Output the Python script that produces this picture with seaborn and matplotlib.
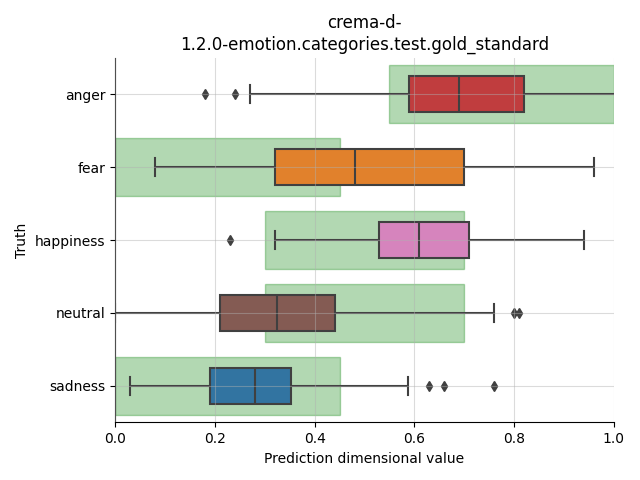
import pandas as pd
import matplotlib
matplotlib.use("Agg")
import matplotlib.pyplot as plt
import seaborn as sns
from matplotlib.patches import Rectangle

# =========================
# Data
# =========================
CATEGORIES = ["anger", "fear", "happiness", "neutral", "sadness"]
PALETTE = ["tab:red", "tab:orange", "tab:pink", "tab:brown", "tab:blue"]

anger = [0.18, 0.24, 0.27, 0.59, 0.62, 0.66, 0.69, 0.73, 0.78, 0.82, 0.88, 0.94, 1.03]
fear = [0.08, 0.18, 0.26, 0.32, 0.38, 0.43, 0.48, 0.55, 0.63, 0.70, 0.79, 0.88, 0.96]
happiness = [0.23, 0.32, 0.45, 0.53, 0.56, 0.59, 0.61, 0.64, 0.67, 0.71, 0.78, 0.86, 0.94]
neutral = [0.00, 0.10, 0.16, 0.21, 0.25, 0.29, 0.325, 0.36, 0.40, 0.44, 0.76, 0.80, 0.81]
sadness = [0.03, 0.08, 0.12, 0.16, 0.19, 0.21, 0.24, 0.26, 0.28, 0.30, 0.32, 0.34,
           0.352, 0.588, 0.63, 0.66, 0.76]

# expected ranges per category (green bands)
range_lo = [0.55, 0.00, 0.30, 0.30, 0.00]
range_hi = [1.00, 0.45, 0.70, 0.70, 0.45]

# =========================
# Build long-form table
# =========================
values = {"anger": anger, "fear": fear, "happiness": happiness,
          "neutral": neutral, "sadness": sadness}
df = pd.DataFrame(
    [(cat, v) for cat in CATEGORIES for v in values[cat]],
    columns=["Truth", "Prediction dimensional value"],
)

# =========================
# Plot
# =========================
fig, ax = plt.subplots(figsize=(6.4, 4.8), dpi=100)

for i, (lo, hi) in enumerate(zip(range_lo, range_hi)):
    ax.add_patch(Rectangle((lo, i - 0.4), hi - lo, 0.8,
                           color="green", alpha=0.3, zorder=1))

sns.boxplot(
    data=df,
    x="Prediction dimensional value",
    y="Truth",
    hue="Truth",
    order=CATEGORIES,
    hue_order=CATEGORIES,
    palette=PALETTE,
    width=0.5,
    linecolor=".25",
    linewidth=1.5,
    flierprops={"marker": "d", "markerfacecolor": ".25",
                "markeredgecolor": ".25", "markersize": 5},
    legend=False,
    ax=ax,
)

ax.set_xlim(0, 1)
ax.set_axisbelow(False)
ax.grid(True, color="#b0b0b0", alpha=0.45, linewidth=0.8)
ax.set_title("crema-d-\n1.2.0-emotion.categories.test.gold_standard", fontsize=12)
sns.despine(ax=ax)

fig.subplots_adjust(left=0.18, right=0.959, bottom=0.12, top=0.88)
fig.savefig("out.png", dpi=100)
plt.close(fig)
